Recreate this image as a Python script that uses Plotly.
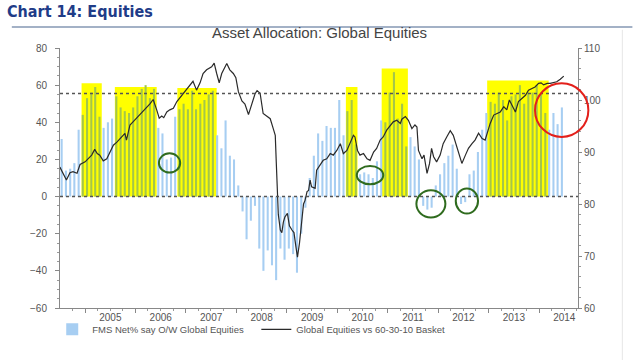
import pandas as pd
import plotly.graph_objects as go

# ---------------- data ----------------
fms_start = "2004-07-15"  # first monthly survey bar
fms_net = [31, 14, 15, 18, 36,
           44, 53, 56, 59, 43,
           37, 40, 42,
           54, 48, 46, 45, 48, 54, 58, 60, 53, 58,
           37, 34, 20, 21, 43,
           47, 50, 47, 57, 47, 50, 52, 55, 57,
           33, 26, 41, 22, 20, 6,
           -8, -23, -13, -5, -28, -40, -29, -37, -45, -28, -34, -28, -31, -41, -20, -6,
           10, 22, 34, 30, 38, 37, 37, 52, 33,
           46, 52, 28,
           12, 13, 12, 10, 19,
           41, 40, 56, 67, 42, 50, 27,
           32, 27, 20, -5, -7, -6, 6, 12, 18, 22, 28, 15, -4, -3, 12, 14, 24, 36,
           45, 51, 50, 56, 52, 41, 54, 55, 60, 50, 56, 56, 60, 55, 45,
           36, 45, 39, 48]

line_year = [2004.50, 2004.57, 2004.63, 2004.70, 2004.76, 2004.84, 2004.90, 2005.00, 2005.06, 2005.13,
             2005.19, 2005.24, 2005.29, 2005.36, 2005.43, 2005.49, 2005.56, 2005.63, 2005.72, 2005.79,
             2005.82, 2005.89, 2005.95, 2006.02, 2006.09, 2006.15, 2006.22, 2006.29, 2006.35, 2006.38,
             2006.42, 2006.47, 2006.52, 2006.56, 2006.62, 2006.68, 2006.75, 2006.82, 2006.88, 2006.98,
             2007.08, 2007.14, 2007.21, 2007.28, 2007.34, 2007.41, 2007.51, 2007.56, 2007.61, 2007.66,
             2007.71, 2007.81, 2007.87, 2007.94, 2007.99, 2008.04, 2008.11, 2008.17, 2008.24, 2008.30,
             2008.37, 2008.41, 2008.47, 2008.53, 2008.60, 2008.67, 2008.73, 2008.77, 2008.79, 2008.81,
             2008.83, 2008.87, 2008.90, 2008.93, 2008.96, 2009.01, 2009.05, 2009.10, 2009.14, 2009.18,
             2009.21, 2009.25, 2009.30, 2009.33, 2009.36, 2009.40, 2009.43, 2009.46, 2009.49, 2009.56,
             2009.59, 2009.66, 2009.72, 2009.79, 2009.86, 2009.92, 2009.99, 2010.06, 2010.12, 2010.19,
             2010.25, 2010.32, 2010.35, 2010.40, 2010.45, 2010.52, 2010.59, 2010.65, 2010.72, 2010.78,
             2010.85, 2010.91, 2010.98, 2011.05, 2011.11, 2011.18, 2011.25, 2011.28, 2011.35, 2011.41,
             2011.48, 2011.54, 2011.58, 2011.61, 2011.68, 2011.72, 2011.78, 2011.83, 2011.87, 2011.91,
             2011.97, 2012.04, 2012.10, 2012.17, 2012.24, 2012.30, 2012.37, 2012.42, 2012.47, 2012.54,
             2012.60, 2012.67, 2012.73, 2012.80, 2012.87, 2012.93, 2012.97, 2013.03, 2013.10, 2013.16,
             2013.23, 2013.30, 2013.36, 2013.41, 2013.48, 2013.53, 2013.59, 2013.66, 2013.73, 2013.79,
             2013.86, 2013.92, 2013.99, 2014.04, 2014.09, 2014.16, 2014.22, 2014.29, 2014.35, 2014.42,
             2014.49]
line_value = [87.1, 85.9, 84.6, 86.0, 86.2, 85.9, 87.6, 88.1, 88.7, 89.4,
              90.5, 89.7, 89.4, 88.3, 88.7, 90.0, 91.3, 91.9, 92.9, 93.6,
              92.3, 95.2, 95.8, 96.5, 97.1, 97.7, 98.4, 99.3, 100.1, 99.0,
              98.1, 96.5, 96.9, 96.6, 97.7, 98.1, 98.4, 99.7, 100.4, 101.6,
              102.9, 103.6, 101.9, 103.3, 105.1, 105.8, 106.4, 107.1, 105.1, 103.3,
              105.1, 107.0, 105.8, 105.1, 104.3, 101.6, 99.8, 99.2, 97.2, 99.0,
              101.2, 101.8, 101.3, 97.4, 96.9, 96.4, 94.5, 93.2, 88.0, 81.5,
              78.0, 75.0, 74.5, 76.5, 77.5, 78.2, 75.8, 75.0, 74.5, 71.7,
              69.8, 72.5, 77.5, 80.0, 80.7, 82.4, 82.6, 84.6, 83.3, 83.0,
              86.5, 87.5, 88.4, 88.7, 89.7, 89.4, 90.3, 91.6, 89.7, 90.3,
              91.6, 93.2, 92.9, 90.3, 89.4, 89.7, 88.7, 88.4, 90.0, 90.7,
              92.3, 92.9, 94.2, 95.0, 95.8, 96.1, 95.5, 96.3, 96.8, 96.1,
              94.5, 95.2, 94.8, 90.3, 88.7, 89.4, 85.9, 87.8, 90.7, 89.1,
              88.1, 89.4, 91.6, 92.9, 94.1, 93.2, 91.0, 89.1, 87.8, 89.4,
              90.7, 91.6, 92.3, 93.6, 92.6, 92.3, 93.6, 95.5, 97.1, 97.4,
              97.7, 98.7, 98.1, 100.0, 98.7, 97.7, 99.7, 100.3, 100.9, 101.9,
              102.2, 102.5, 103.2, 103.3, 102.9, 103.2, 103.2, 103.3, 103.5, 104.0,
              104.6]

highlight_start = [2004.93, 2005.59, 2006.83, 2010.17, 2010.88, 2012.97]
highlight_end = [2005.33, 2006.42, 2007.61, 2010.40, 2011.40, 2014.19]
highlight_top = [61, 59, 58.5, 59, 69, 62.5]

ref_levels = [55.5, 0]

bar_name = "FMS Net% say O/W Global Equities"
line_name = "Global Equities vs 60-30-10 Basket"


# ---------------- helpers ----------------
def year_to_date(y):
    yr = int(y)
    start = pd.Timestamp(yr, 1, 1)
    end = pd.Timestamp(yr + 1, 1, 1)
    return start + (end - start) * (y - yr)


fms_dates = [pd.Timestamp(fms_start) + pd.DateOffset(months=i) for i in range(len(fms_net))]
line_dates = [year_to_date(v) for v in line_year]
periods = [(year_to_date(s), year_to_date(e)) for s, e in zip(highlight_start, highlight_end)]

BLUE = "#A7CEF2"
GREEN = "#A4C64A"
bar_colors = [GREEN if any(a <= d <= b for a, b in periods) else BLUE for d in fms_dates]

fig = go.Figure()

fig.add_trace(go.Bar(
    x=fms_dates, y=fms_net, name=bar_name,
    marker=dict(color=bar_colors, line=dict(width=0)),
    width=15 * 86400000, legend="legend",
))
fig.add_trace(go.Scatter(
    x=line_dates, y=line_value, name=line_name, yaxis="y2", mode="lines",
    line=dict(color="#2a2a2a", width=1.2), legend="legend2",
))

shapes = []
for (a, b), t in zip(periods, highlight_top):
    shapes.append(dict(type="rect", xref="x", yref="y", x0=a, x1=b,
                       y0=0, y1=t, fillcolor="#FFFF00", line=dict(width=0), layer="below"))
for lv in ref_levels:
    shapes.append(dict(type="line", xref="paper", yref="y", x0=0, x1=1, y0=lv, y1=lv,
                       line=dict(color="#555555", width=1.5, dash="dot"), layer="above"))

green = "#2F6B1E"
for (x0, x1, y0, y1) in [(0.191, 0.232, 0.521, 0.595), (0.573, 0.624, 0.476, 0.546),
                         (0.688, 0.744, 0.348, 0.453), (0.764, 0.807, 0.363, 0.460)]:
    shapes.append(dict(type="circle", xref="paper", yref="paper", x0=x0, x1=x1, y0=y0, y1=y1,
                       line=dict(color=green, width=2)))
shapes.append(dict(type="circle", xref="paper", yref="paper", x0=0.917, x1=1.020, y0=0.658, y1=0.864,
                   line=dict(color="#E3201B", width=2)))
# header rule and frame edge
shapes.append(dict(type="line", xref="paper", yref="paper", x0=-0.093, x1=1.105, y0=1.081, y1=1.081,
                   line=dict(color="#A3B1C6", width=2)))
shapes.append(dict(type="line", xref="paper", yref="paper", x0=1.0856, x1=1.0856, y0=1.07, y1=-0.21,
                   line=dict(color="#E6E6E6", width=1)))

axis_font = dict(family="Liberation Sans, Arial, sans-serif", size=10, color="#555555")
legend_font = dict(family="Liberation Sans, Arial, sans-serif", size=9.5, color="#555555")

fig.update_layout(
    width=640, height=360,
    margin=dict(l=60, r=62, t=48, b=52),
    paper_bgcolor="white", plot_bgcolor="white",
    bargap=0.5,
    shapes=shapes,
    xaxis=dict(type="date", range=[year_to_date(2004.503), year_to_date(2014.772)],
               tick0="2005-01-01", dtick="M12", ticklabelmode="period", tickformat="%Y",
               ticks="outside", ticklen=4, tickcolor="#888", showline=True, linecolor="#888",
               showgrid=False, zeroline=False, tickfont=axis_font, ticklabelstandoff=-4,
               minor=dict(dtick="M3", ticks="outside", ticklen=2, tickcolor="#999")),
    yaxis=dict(range=[-60, 80], dtick=20, ticks="outside", ticklen=4, tickcolor="#888",
               showline=True, linecolor="#888", showgrid=False, zeroline=False, tickfont=axis_font,
               ticklabelstandoff=6,
               minor=dict(dtick=5, ticks="outside", ticklen=2, tickcolor="#999")),
    yaxis2=dict(range=[60, 110], dtick=10, overlaying="y", side="right", ticks="outside", ticklen=3,
                tickcolor="#888", showline=True, linecolor="#888", showgrid=False, zeroline=False,
                tickfont=axis_font,
                minor=dict(dtick=2, ticks="outside", ticklen=2, tickcolor="#999")),
    legend=dict(x=-0.015, y=-0.082, xanchor="left", yanchor="middle", orientation="h",
                bgcolor="rgba(0,0,0,0)", font=legend_font),
    legend2=dict(x=0.379, y=-0.082, xanchor="left", yanchor="middle", orientation="h",
                 bgcolor="rgba(0,0,0,0)", font=legend_font),
    showlegend=True,
    annotations=[
        dict(text="<b>Chart 14: Equities</b>", xref="paper", yref="paper", x=-0.1062, y=1.1386,
             xanchor="left", yanchor="middle", showarrow=False,
             font=dict(family="Liberation Sans Narrow, DejaVu Sans Condensed, Arial Narrow, sans-serif",
                       size=16, color="#1F3C88")),
        dict(text="Asset Allocation: Global Equities", xref="paper", yref="paper", x=0.5, y=1.058,
             xanchor="center", yanchor="middle", showarrow=False,
             font=dict(family="Liberation Sans, Arial, sans-serif", size=15, color="#444444")),
    ],
)

# remove the browser's default 8px page margin so the figure sits at the window's top-left corner
fig.write_html("out.html", config={"displayModeBar": False},
               post_script="document.body.style.margin='0px';")
